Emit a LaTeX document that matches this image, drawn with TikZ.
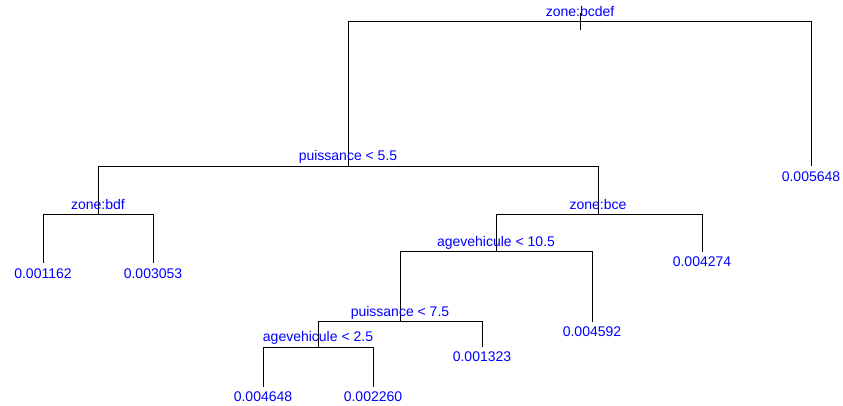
\documentclass[tikz,border=0pt]{standalone}
\usepackage{fontspec}
\setmainfont{Liberation Sans}
\tikzset{
  splitlab/.style={text=blue, anchor=base, inner sep=0pt, yshift=5.5pt},
  leaflab/.style={text=blue, anchor=base, inner sep=0pt, yshift=-15pt},
  branch/.style={line width=0.8pt, black}
}
\begin{document}
\begin{tikzpicture}[x=1pt, y=-1pt, font=\fontsize{14}{16}\selectfont]

            \useasboundingbox (0,0) rectangle (843,405);

            % split points
            \coordinate (n1) at (580,21.5);
            \coordinate (n2) at (348,166);
            \coordinate (n4) at (98,214.7);
            \coordinate (n5) at (598,214.7);
            \coordinate (n10) at (496,251.7);
            \coordinate (n20) at (400,321.7);
            \coordinate (n40) at (318,347.3);

            % leaf ends
            \coordinate (l3) at (811,166);
            \coordinate (l8) at (43,263.3);
            \coordinate (l9) at (153,263.3);
            \coordinate (l11) at (702,251.7);
            \coordinate (l21) at (592,321.7);
            \coordinate (l41) at (482,346.7);
            \coordinate (l80) at (263,386.7);
            \coordinate (l81) at (373,386.7);

            % root stem
            \coordinate (top) at (580,13);
            \coordinate (stem) at (580,29.5);
            \draw[branch] (top) -- (stem);

            \draw[branch] (n1) -| (n2);
            \draw[branch] (n1) -| (l3);
            \draw[branch] (n2) -| (n4);
            \draw[branch] (n2) -| (n5);
            \draw[branch] (n4) -| (l8);
            \draw[branch] (n4) -| (l9);
            \draw[branch] (n5) -| (n10);
            \draw[branch] (n5) -| (l11);
            \draw[branch] (n10) -| (n20);
            \draw[branch] (n10) -| (l21);
            \draw[branch] (n20) -| (n40);
            \draw[branch] (n20) -| (l41);
            \draw[branch] (n40) -| (l80);
            \draw[branch] (n40) -| (l81);

            \node[splitlab] (t1) at (n1) {zone:bcdef};
            \node[splitlab] (t2) at (n2) {puissance < 5.5};
            \node[splitlab] (t4) at (n4) {zone:bdf};
            \node[splitlab] (t5) at (n5) {zone:bce};
            \node[splitlab] (t10) at (n10) {agevehicule < 10.5};
            \node[splitlab] (t20) at (n20) {puissance < 7.5};
            \node[splitlab] (t40) at (n40) {agevehicule < 2.5};

            \node[leaflab] (v3) at (l3) {0.005648};
            \node[leaflab] (v8) at (l8) {0.001162};
            \node[leaflab] (v9) at (l9) {0.003053};
            \node[leaflab] (v11) at (l11) {0.004274};
            \node[leaflab] (v21) at (l21) {0.004592};
            \node[leaflab] (v41) at (l41) {0.001323};
            \node[leaflab] (v80) at (l80) {0.004648};
            \node[leaflab] (v81) at (l81) {0.002260};

\end{tikzpicture}
\end{document}
